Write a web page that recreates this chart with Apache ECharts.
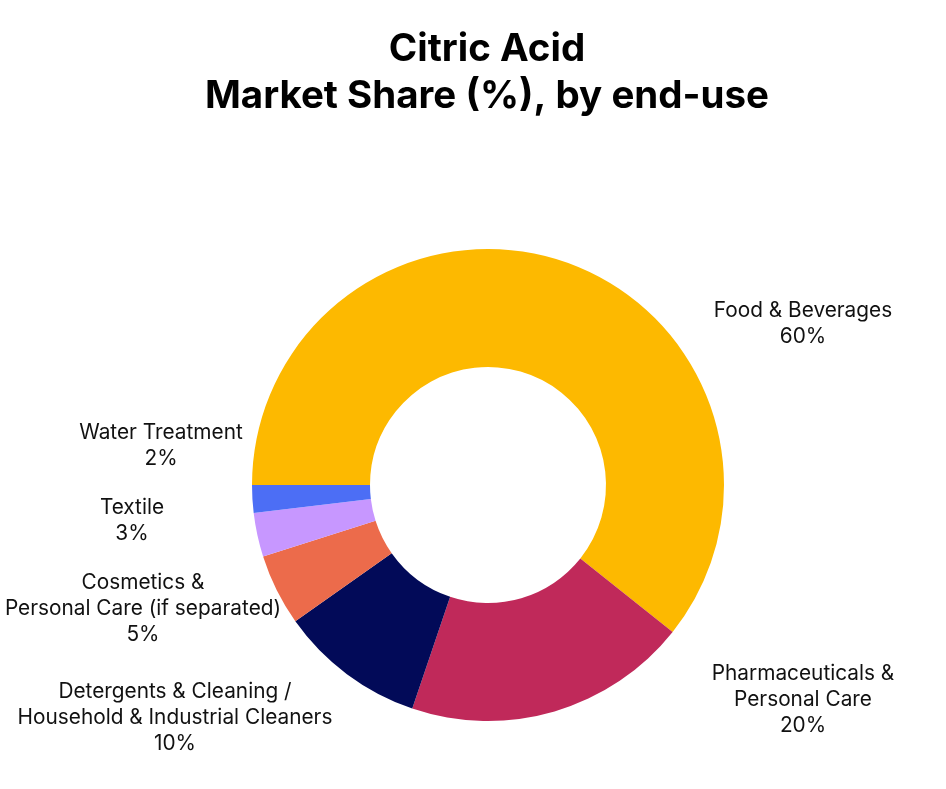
<!DOCTYPE html>
<html>
<head>
<meta charset="utf-8">
<script src="https://cdn.jsdelivr.net/npm/echarts@6/dist/echarts.min.js"></script>
<style>
  html, body { margin: 0; padding: 0; background: #fff; }
  #chart { width: 946px; height: 789px; }
</style>
</head>
<body>
<div id="chart"></div>
<script>
const categories = [
  'Food & Beverages',
  'Pharmaceuticals &\nPersonal Care',
  'Detergents & Cleaning /\nHousehold & Industrial Cleaners',
  'Cosmetics &\nPersonal Care (if separated)',
  'Textile',
  'Water Treatment'
]
// slice sizes
const shares = [60.7, 19.5, 10, 4.9, 3, 1.9]
// percentages printed on the labels
const printedShares = [60, 20, 10, 5, 3, 2]
const colors = ['#FDB900', '#C0295A', '#020A58', '#EC6B4B', '#C797FF', '#4C6EF5']

// where each label block sits (centre of the text)
const labelAnchors = [[803, 324], [803, 700], [175, 718], [143, 609], [132, 521], [161, 446]]

let myChart = echarts.init(document.getElementById('chart'))

let option = {
  backgroundColor: '#fff',
  title: {
    text: 'Citric Acid\nMarket Share (%), by end-use',
    left: 482,
    textAlign: 'center',
    top: 21,
    textStyle: {
      fontFamily: 'Inter',
      fontSize: 38.5,
      fontWeight: 'bold',
      lineHeight: 47,
      color: '#000'
    }
  },
  series: [
    {
      type: 'pie',
      center: [488, 485],
      radius: [118, 236],
      startAngle: 180,
      clockwise: true,
      avoidLabelOverlap: false,
      data: categories.map((name, i) => ({
        name: name,
        value: shares[i],
        itemStyle: { color: colors[i] }
      })),
      label: {
        show: true,
        position: 'outside',
        formatter: function (p) {
          return p.name + '\n' + printedShares[p.dataIndex] + '%'
        },
        fontFamily: 'Inter',
        fontSize: 20.8,
        lineHeight: 26,
        color: '#111'
      },
      labelLine: { show: false },
      labelLayout: function (params) {
        let p = labelAnchors[params.dataIndex]
        return { x: p[0], y: p[1], align: 'center', verticalAlign: 'middle' }
      },
      emphasis: { disabled: true }
    }
  ]
}
myChart.setOption(option)
</script>
</body>
</html>
